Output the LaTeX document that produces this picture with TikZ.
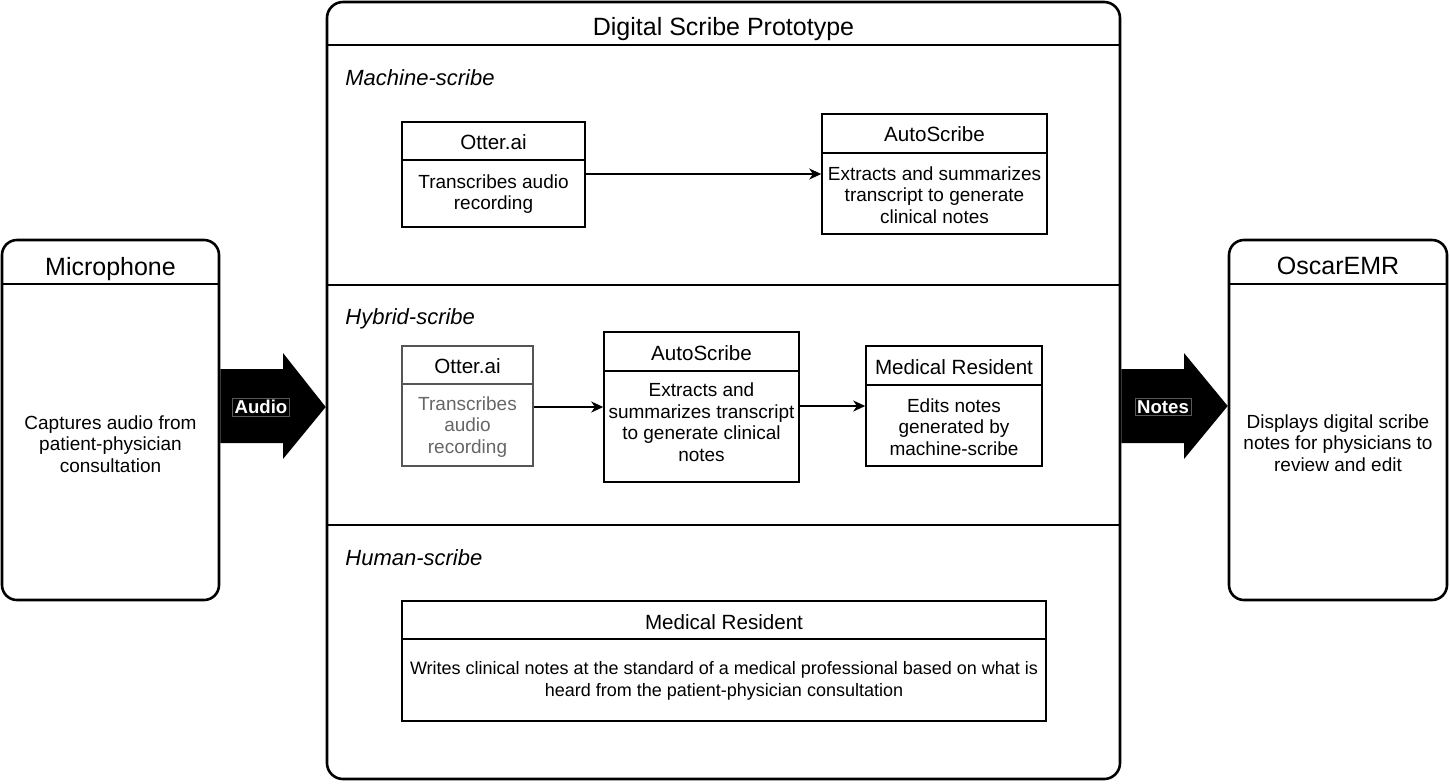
\documentclass[tikz,border=0pt]{standalone}
\usepackage{fontspec}
\setmainfont{Liberation Sans}
\usetikzlibrary{arrows.meta,fit}
\definecolor{otgray}{HTML}{666666}
\definecolor{otline}{HTML}{555555}
\begin{document}
\begin{tikzpicture}[x=0.5pt,y=-0.5pt,
  outer/.style={draw, line width=1.3pt, rounded corners=7.5pt, inner sep=0pt},
  ibox/.style={draw, line width=0.75pt, inner sep=0pt},
  gbox/.style={draw=otline, line width=0.75pt, inner sep=0pt},
  thickline/.style={line width=1.3pt},
  thinline/.style={line width=0.75pt},
  big/.style={font=\fontsize{12.5}{14}\selectfont, inner sep=0pt, text depth=0pt},
  hdr/.style={font=\fontsize{10.3}{12}\selectfont, inner sep=0pt},
  bdy/.style={font=\fontsize{9.5}{10.75}\selectfont, align=center, inner sep=0pt},
  sec/.style={font=\fontsize{11}{13}\selectfont\itshape, anchor=west, inner sep=0pt, text depth=0pt},
  conn/.style={line width=0.75pt, -{Stealth[length=6pt,width=5.5pt,inset=1.8pt]}},
  arrlbl/.style={fill=black, draw=gray!70!black, line width=0.3pt, text=white, font=\fontsize{9.3}{11}\selectfont\bfseries, inner sep=1pt}
]
\useasboundingbox (0,0) rectangle (1450,783);

% ---------- Microphone ----------
\node[outer, fit={(2,240)(219,600)}] (mic) {};
\draw[thickline] (mic.west |- 0,284) -- (mic.east |- 0,284);
\node[big] (micT) at (110.5,266) {Microphone};
\node[bdy] (micB) at (110.5,444) {Captures audio from\\patient-physician\\consultation};

% ---------- OscarEMR ----------
\node[outer, fit={(1229,240)(1447,600)}] (emr) {};
\draw[thickline] (emr.west |- 0,284) -- (emr.east |- 0,284);
\node[big] (emrT) at (1338,266) {OscarEMR};
\node[bdy] (emrB) at (1338,443) {Displays digital scribe\\notes for physicians to\\review and edit};

% ---------- Main box ----------
\node[outer, rounded corners=8pt, fit={(327,2)(1120,779)}] (main) {};
\draw[thickline] (main.west |- 0,45) -- (main.east |- 0,45);
\draw[thickline] (main.west |- 0,285) -- (main.east |- 0,285);
\draw[thickline] (main.west |- 0,525) -- (main.east |- 0,525);
\node[big] (mainT) at (723.5,26) {Digital Scribe Prototype};

% ---------- Block arrows ----------
\coordinate (audA) at (mic.east |- 0,369);
\coordinate (audTip) at (main.west |- 0,407);
\fill (audA) -- (283,369) -- (283,353) -- (audTip) -- (283,459) -- (283,443) -- (mic.east |- 0,443) -- cycle;
\node[arrlbl] (audL) at (261,407) {Audio};

\coordinate (notA) at (main.east |- 0,369);
\coordinate (notTip) at (emr.west |- 0,406);
\fill (notA) -- (1184,369) -- (1184,353) -- (notTip) -- (1184,459) -- (1184,443) -- (main.east |- 0,443) -- cycle;
\node[arrlbl] (notL) at (1163,407) {Notes};

% ---------- Machine-scribe ----------
\node[sec] (secM) at (345,78) {Machine-scribe};

\node[ibox, fit={(402,122)(585,227)}] (ot1) {};
\draw[thinline] (ot1.west |- 0,160) -- (ot1.east |- 0,160);
\node[hdr] (ot1T) at (493.5,142) {Otter.ai};
\node[bdy] (ot1B) at (493.5,194) {Transcribes audio\\recording};

\node[ibox, fit={(822,114)(1047,234)}] (as1) {};
\draw[thinline] (as1.west |- 0,153) -- (as1.east |- 0,153);
\node[hdr] (as1T) at (934.5,134) {AutoScribe};
\node[bdy] (as1B) at (934.5,195) {Extracts and summarizes\\transcript to generate\\clinical notes};

\draw[conn] (ot1.east |- 0,174) -- (as1.west |- 0,174);

% ---------- Hybrid-scribe ----------
\node[sec] (secH) at (345,317) {Hybrid-scribe};

\node[gbox, fit={(402,346)(533,466)}] (ot2) {};
\draw[thinline, draw=otline] (ot2.west |- 0,384) -- (ot2.east |- 0,384);
\node[hdr] (ot2T) at (467.5,366) {Otter.ai};
\node[bdy, text=otgray] (ot2B) at (467.5,427) {Transcribes\\audio\\recording};

\node[ibox, fit={(604,332)(799,482)}] (as2) {};
\draw[thinline] (as2.west |- 0,371) -- (as2.east |- 0,371);
\node[hdr] (as2T) at (701.5,353) {AutoScribe};
\node[bdy] (as2B) at (701.5,422) {Extracts and\\summarizes transcript\\to generate clinical\\notes};

\node[ibox, fit={(866,346)(1042,466)}] (mr2) {};
\draw[thinline] (mr2.west |- 0,385) -- (mr2.east |- 0,385);
\node[hdr] (mr2T) at (954,367) {Medical Resident};
\node[bdy] (mr2B) at (954,427) {Edits notes\\generated by\\machine-scribe};

\draw[conn] (ot2.east |- 0,407) -- (as2.west |- 0,407);
\draw[conn] (as2.east |- 0,406) -- (mr2.west |- 0,406);

% ---------- Human-scribe ----------
\node[sec] (secU) at (345,558) {Human-scribe};

\node[ibox, fit={(402,601)(1046,721)}] (mr3) {};
\draw[thinline] (mr3.west |- 0,639) -- (mr3.east |- 0,639);
\node[hdr] (mr3T) at (724,622) {Medical Resident};
\node[bdy, font=\fontsize{9}{10.75}\selectfont] (mr3B) at (724,681) {Writes clinical notes at the standard of a medical professional based on what is\\heard from the patient-physician consultation};

\end{tikzpicture}
\end{document}
